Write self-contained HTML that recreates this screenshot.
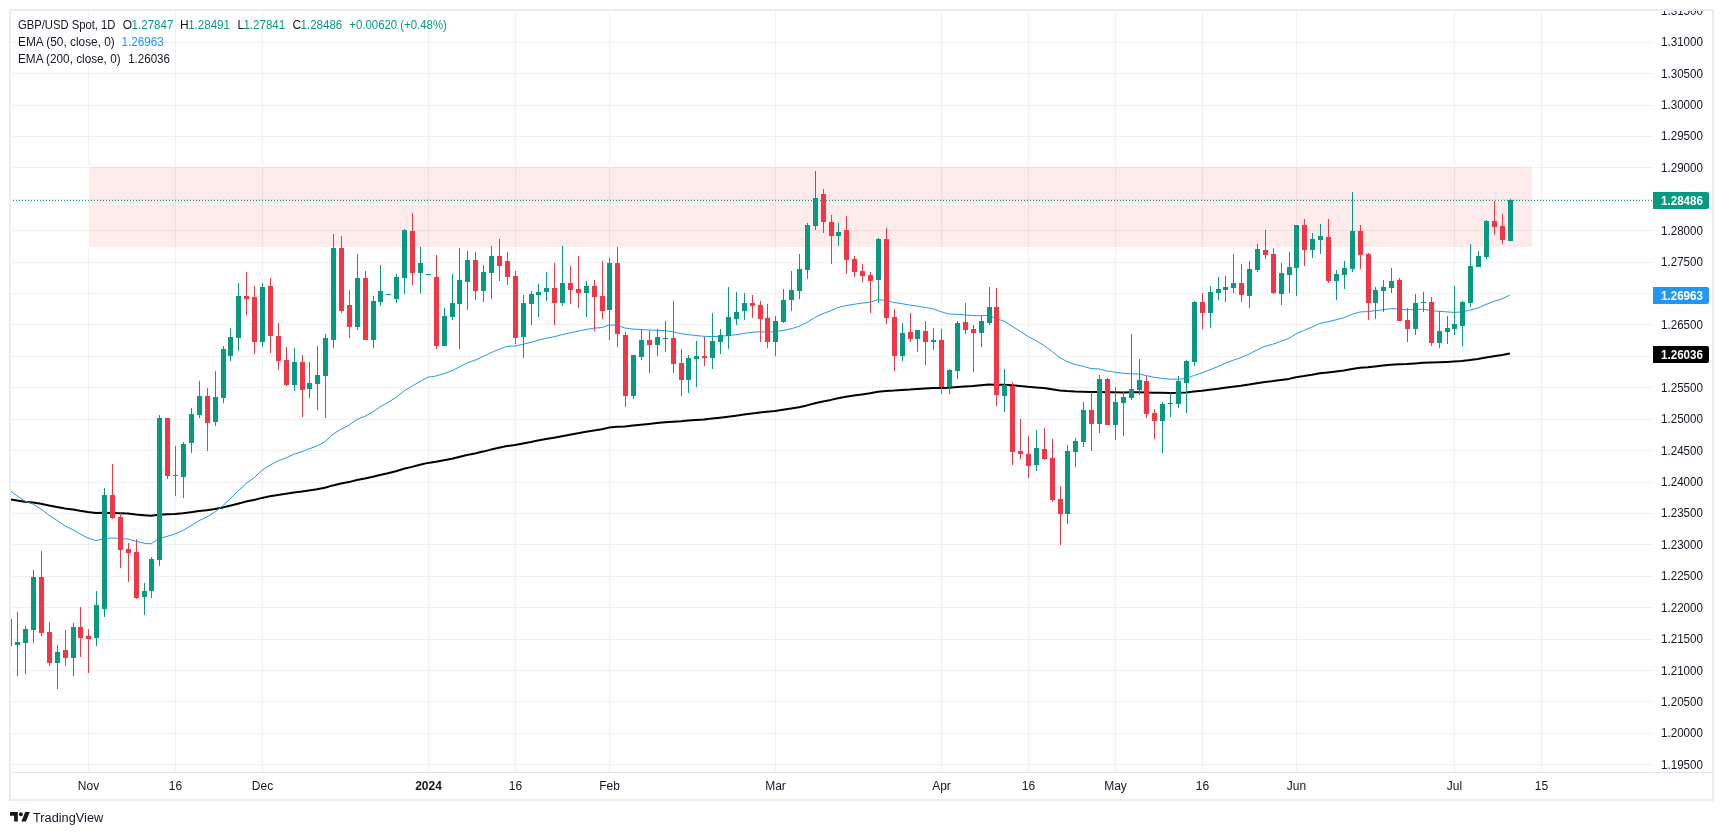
<!DOCTYPE html><html><head><meta charset="utf-8"><style>html,body{margin:0;padding:0;background:#fff;width:1723px;height:835px;overflow:hidden}svg{display:block;will-change:transform}text{font-family:"Liberation Sans",sans-serif}</style></head><body>
<svg width="1723" height="835" viewBox="0 0 1723 835">
<defs><clipPath id="pane"><rect x="11" y="11" width="1641" height="761"/></clipPath></defs>
<path d="M11 764.5H1653M11 733.5H1653M11 701.5H1653M11 670.5H1653M11 639.5H1653M11 607.5H1653M11 576.5H1653M11 544.5H1653M11 513.5H1653M11 482.5H1653M11 450.5H1653M11 419.5H1653M11 387.5H1653M11 356.5H1653M11 324.5H1653M11 293.5H1653M11 262.5H1653M11 230.5H1653M11 199.5H1653M11 167.5H1653M11 136.5H1653M11 105.5H1653M11 73.5H1653M11 42.5H1653" stroke="#2a2e39" stroke-opacity="0.07" stroke-width="1" fill="none"/>
<path d="M88.5 11V772M175.5 11V772M262.5 11V772M428.5 11V772M515.5 11V772M609.5 11V772M775.5 11V772M941.5 11V772M1028.5 11V772M1115.5 11V772M1202.5 11V772M1296.5 11V772M1454.5 11V772M1541.5 11V772" stroke="#2a2e39" stroke-opacity="0.07" stroke-width="1" fill="none"/>
<g clip-path="url(#pane)">
<rect x="88" y="166" width="1445" height="82" fill="none" stroke="#fff" stroke-width="2"/>
<rect x="89" y="167" width="1443" height="80" fill="#f23645" fill-opacity="0.1"/>
<polyline points="8.9,499.1 16.9,500.5 24.9,501.8 32.9,502.5 40.9,503.8 48.9,505.4 56.9,506.9 64.9,508.4 72.9,509.5 79.9,510.8 87.9,512.1 95.9,513.0 103.9,512.8 111.9,512.9 119.9,513.2 127.9,513.6 135.9,514.5 143.9,515.2 150.9,515.7 158.9,514.7 166.9,514.3 174.9,513.9 182.9,513.2 190.9,512.2 198.9,511.1 206.9,510.2 214.9,509.0 222.9,507.4 229.9,505.7 237.9,503.7 245.9,501.6 253.9,500.0 261.9,497.9 269.9,496.3 277.9,494.9 285.9,493.8 293.9,492.5 301.9,491.5 308.9,490.4 316.9,489.3 324.9,487.7 332.9,485.4 340.9,483.6 348.9,482.1 356.9,480.0 364.9,478.6 372.9,476.8 379.9,475.0 387.9,473.2 395.9,471.2 403.9,468.8 411.9,466.9 419.9,464.8 427.9,462.9 435.9,461.8 443.9,460.3 451.9,458.7 458.9,457.0 466.9,455.0 474.9,453.4 482.9,451.6 490.9,449.6 498.9,447.8 506.9,446.1 514.9,445.0 522.9,443.6 530.9,442.1 537.9,440.6 545.9,439.1 553.9,437.7 561.9,436.2 569.9,434.7 577.9,433.3 585.9,431.8 593.9,430.5 601.9,429.3 608.9,427.6 616.9,426.7 624.9,426.4 632.9,425.6 640.9,424.8 648.9,424.0 656.9,423.1 664.9,422.3 672.9,421.7 680.9,421.3 687.9,420.6 695.9,420.0 703.9,419.4 711.9,418.6 719.9,417.7 727.9,416.7 735.9,415.7 743.9,414.6 751.9,413.5 759.9,412.5 766.9,411.8 774.9,410.9 782.9,409.8 790.9,408.6 798.9,407.2 806.9,405.4 814.9,403.3 822.9,401.5 830.9,399.9 837.9,398.2 845.9,396.8 853.9,395.6 861.9,394.4 869.9,393.2 877.9,391.7 885.9,391.0 893.9,390.6 901.9,390.0 909.9,389.5 916.9,388.9 924.9,388.4 932.9,388.0 940.9,387.9 948.9,387.8 956.9,387.1 964.9,386.5 972.9,386.0 980.9,385.3 988.9,384.6 995.9,384.7 1003.9,384.7 1011.9,385.3 1019.9,386.0 1027.9,386.8 1035.9,387.4 1043.9,388.1 1051.9,389.2 1059.9,390.4 1066.9,391.0 1074.9,391.5 1082.9,391.7 1090.9,392.0 1098.9,391.9 1106.9,392.2 1114.9,392.3 1122.9,392.4 1130.9,392.3 1138.9,392.2 1145.9,392.4 1153.9,392.7 1161.9,392.8 1169.9,392.9 1177.9,392.8 1185.9,392.4 1193.9,391.5 1201.9,390.8 1209.9,389.8 1217.9,388.8 1224.9,387.7 1232.9,386.7 1240.9,385.8 1248.9,384.6 1256.9,383.2 1264.9,382.0 1272.9,381.1 1280.9,380.0 1288.9,378.9 1295.9,377.3 1303.9,376.1 1311.9,374.7 1319.9,373.3 1327.9,372.4 1335.9,371.4 1343.9,370.4 1351.9,369.0 1359.9,367.8 1367.9,367.2 1374.9,366.4 1382.9,365.6 1390.9,364.8 1398.9,364.3 1406.9,364.0 1414.9,363.4 1422.9,362.7 1430.9,362.5 1438.9,362.2 1446.9,361.9 1453.9,361.5 1461.9,360.9 1469.9,360.0 1477.9,358.9 1485.9,357.5 1493.9,356.2 1501.9,355.1 1509.9,353.5" fill="none" stroke="#000" stroke-width="2" stroke-linejoin="round"/>
<polyline points="8.9,489.9 16.9,495.8 24.9,501.0 32.9,504.0 40.9,509.0 48.9,515.1 56.9,520.4 64.9,525.8 72.9,529.7 79.9,533.9 87.9,538.0 95.9,540.6 103.9,538.8 111.9,538.0 119.9,538.4 127.9,539.0 135.9,541.3 143.9,543.2 150.9,543.8 158.9,538.8 166.9,536.4 174.9,534.0 182.9,530.4 190.9,525.8 198.9,520.7 206.9,516.9 214.9,512.1 222.9,505.7 229.9,499.1 237.9,491.1 245.9,483.5 253.9,477.9 261.9,470.4 269.9,465.1 277.9,461.0 285.9,458.0 293.9,454.2 301.9,451.7 308.9,449.0 316.9,446.0 324.9,441.8 332.9,434.2 340.9,429.3 348.9,425.2 356.9,419.5 364.9,416.3 372.9,411.8 379.9,407.0 387.9,402.5 395.9,397.6 403.9,391.0 411.9,386.3 419.9,381.5 427.9,377.2 435.9,376.0 443.9,373.6 451.9,370.8 458.9,367.2 466.9,363.0 474.9,360.2 482.9,356.7 490.9,352.7 498.9,349.3 506.9,346.4 514.9,346.0 522.9,344.3 530.9,342.3 537.9,340.3 545.9,338.3 553.9,336.8 561.9,334.7 569.9,332.9 577.9,331.3 585.9,329.5 593.9,328.2 601.9,327.5 608.9,325.0 616.9,325.3 624.9,328.0 632.9,329.1 640.9,329.5 648.9,330.0 656.9,330.3 664.9,330.6 672.9,331.9 680.9,333.7 687.9,334.6 695.9,335.5 703.9,336.3 711.9,336.5 719.9,336.4 727.9,335.6 735.9,334.7 743.9,333.4 751.9,332.3 759.9,331.8 766.9,332.1 774.9,331.7 782.9,330.4 790.9,328.8 798.9,326.4 806.9,322.4 814.9,317.5 822.9,313.7 830.9,310.7 837.9,307.6 845.9,305.6 853.9,304.3 861.9,303.1 869.9,302.2 877.9,299.7 885.9,300.4 893.9,302.5 901.9,303.7 909.9,305.1 916.9,306.0 924.9,307.4 932.9,308.7 940.9,311.7 948.9,314.0 956.9,314.3 964.9,314.9 972.9,315.5 980.9,315.8 988.9,315.4 995.9,318.5 1003.9,321.1 1011.9,326.1 1019.9,331.1 1027.9,336.4 1035.9,340.7 1043.9,345.4 1051.9,351.4 1059.9,357.8 1066.9,361.4 1074.9,364.5 1082.9,366.2 1090.9,368.5 1098.9,368.9 1106.9,371.0 1114.9,372.2 1122.9,373.2 1130.9,373.8 1138.9,374.0 1145.9,375.5 1153.9,377.3 1161.9,378.3 1169.9,379.2 1177.9,379.3 1185.9,378.5 1193.9,375.5 1201.9,373.0 1209.9,369.8 1217.9,366.6 1224.9,363.5 1232.9,360.3 1240.9,357.7 1248.9,354.2 1256.9,350.0 1264.9,346.3 1272.9,344.2 1280.9,341.4 1288.9,338.4 1295.9,333.9 1303.9,330.6 1311.9,327.0 1319.9,323.4 1327.9,321.7 1335.9,319.8 1343.9,317.8 1351.9,314.3 1359.9,312.0 1367.9,311.6 1374.9,310.7 1382.9,309.8 1390.9,308.6 1398.9,309.1 1406.9,309.8 1414.9,309.5 1422.9,309.2 1430.9,310.5 1438.9,311.3 1446.9,311.9 1453.9,312.4 1461.9,311.9 1469.9,310.1 1477.9,308.0 1485.9,304.5 1493.9,301.4 1501.9,299.0 1509.9,295.1" fill="none" stroke="#2196f3" stroke-width="1" stroke-linejoin="round"/>
<path d="M17.0 612h1v64h-1zM25.0 626h1v48h-1zM33.0 570h1v73h-1zM57.0 645h1v44h-1zM73.0 623h1v53h-1zM96.0 591h1v55h-1zM104.0 488h1v129h-1zM144.0 583h1v32h-1zM151.0 557h1v41h-1zM159.0 415h1v151h-1zM183.0 442h1v56h-1zM191.0 408h1v45h-1zM199.0 381h1v37h-1zM215.0 371h1v55h-1zM223.0 346h1v57h-1zM230.0 328h1v33h-1zM238.0 283h1v68h-1zM262.0 283h1v64h-1zM294.0 348h1v43h-1zM309.0 362h1v36h-1zM317.0 346h1v64h-1zM325.0 334h1v84h-1zM333.0 234h1v114h-1zM357.0 254h1v76h-1zM373.0 296h1v52h-1zM380.0 265h1v41h-1zM396.0 274h1v29h-1zM404.0 229h1v65h-1zM420.0 247h1v46h-1zM444.0 308h1v38h-1zM452.0 274h1v46h-1zM459.0 248h1v101h-1zM467.0 251h1v59h-1zM483.0 265h1v37h-1zM491.0 246h1v53h-1zM523.0 295h1v63h-1zM531.0 291h1v34h-1zM538.0 284h1v33h-1zM546.0 272h1v29h-1zM562.0 246h1v60h-1zM586.0 281h1v36h-1zM609.0 258h1v82h-1zM633.0 355h1v44h-1zM641.0 329h1v31h-1zM657.0 329h1v27h-1zM665.0 321h1v31h-1zM688.0 355h1v38h-1zM696.0 341h1v46h-1zM712.0 313h1v56h-1zM720.0 329h1v25h-1zM728.0 287h1v62h-1zM736.0 292h1v33h-1zM744.0 293h1v27h-1zM775.0 316h1v40h-1zM783.0 289h1v34h-1zM791.0 271h1v40h-1zM799.0 254h1v45h-1zM807.0 223h1v56h-1zM815.0 171h1v59h-1zM838.0 223h1v23h-1zM878.0 238h1v65h-1zM902.0 323h1v38h-1zM917.0 330h1v22h-1zM933.0 328h1v22h-1zM949.0 369h1v25h-1zM957.0 321h1v58h-1zM981.0 316h1v31h-1zM989.0 287h1v38h-1zM1004.0 369h1v43h-1zM1036.0 430h1v41h-1zM1067.0 445h1v79h-1zM1075.0 438h1v29h-1zM1083.0 402h1v45h-1zM1099.0 375h1v58h-1zM1115.0 387h1v53h-1zM1123.0 391h1v45h-1zM1131.0 334h1v66h-1zM1139.0 359h1v36h-1zM1162.0 402h1v51h-1zM1170.0 393h1v24h-1zM1178.0 376h1v32h-1zM1186.0 360h1v53h-1zM1194.0 301h1v65h-1zM1210.0 286h1v42h-1zM1218.0 277h1v23h-1zM1225.0 276h1v26h-1zM1233.0 254h1v39h-1zM1249.0 261h1v47h-1zM1257.0 244h1v28h-1zM1281.0 263h1v42h-1zM1289.0 252h1v41h-1zM1296.0 225h1v71h-1zM1312.0 233h1v25h-1zM1320.0 224h1v30h-1zM1336.0 270h1v30h-1zM1344.0 261h1v28h-1zM1352.0 192h1v80h-1zM1375.0 287h1v32h-1zM1383.0 280h1v32h-1zM1391.0 268h1v25h-1zM1415.0 294h1v41h-1zM1423.0 292h1v20h-1zM1439.0 311h1v37h-1zM1447.0 316h1v28h-1zM1454.0 286h1v49h-1zM1462.0 301h1v45h-1zM1470.0 244h1v63h-1zM1478.0 251h1v16h-1zM1486.0 220h1v39h-1zM1510.0 199h1v42h-1zM15.0 642h5v3h-5zM23.0 629h5v14h-5zM31.0 577h5v53h-5zM55.0 652h5v11h-5zM71.0 627h5v31h-5zM94.0 605h5v33h-5zM102.0 495h5v114h-5zM142.0 591h5v6h-5zM149.0 559h5v32h-5zM157.0 418h5v142h-5zM181.0 444h5v33h-5zM189.0 414h5v29h-5zM197.0 396h5v19h-5zM213.0 397h5v25h-5zM221.0 349h5v49h-5zM228.0 337h5v19h-5zM236.0 296h5v42h-5zM260.0 287h5v55h-5zM292.0 362h5v23h-5zM307.0 383h5v6h-5zM315.0 375h5v9h-5zM323.0 338h5v38h-5zM331.0 248h5v92h-5zM355.0 278h5v49h-5zM371.0 301h5v39h-5zM378.0 291h5v11h-5zM386.0 294h5v1h-5zM394.0 277h5v22h-5zM402.0 230h5v48h-5zM418.0 263h5v10h-5zM426.0 274h5v1h-5zM442.0 316h5v30h-5zM450.0 303h5v14h-5zM457.0 280h5v24h-5zM465.0 260h5v22h-5zM481.0 272h5v19h-5zM489.0 256h5v17h-5zM521.0 303h5v34h-5zM529.0 294h5v10h-5zM536.0 292h5v3h-5zM544.0 288h5v4h-5zM560.0 283h5v20h-5zM584.0 286h5v7h-5zM607.0 263h5v47h-5zM631.0 355h5v41h-5zM639.0 340h5v17h-5zM655.0 337h5v8h-5zM663.0 338h5v1h-5zM686.0 358h5v22h-5zM694.0 356h5v3h-5zM710.0 341h5v17h-5zM718.0 335h5v7h-5zM726.0 317h5v19h-5zM734.0 312h5v7h-5zM742.0 303h5v8h-5zM773.0 321h5v21h-5zM781.0 300h5v22h-5zM789.0 290h5v10h-5zM797.0 269h5v22h-5zM805.0 225h5v45h-5zM813.0 198h5v28h-5zM836.0 232h5v4h-5zM876.0 239h5v41h-5zM900.0 333h5v23h-5zM915.0 330h5v9h-5zM931.0 340h5v2h-5zM947.0 370h5v17h-5zM955.0 323h5v48h-5zM979.0 321h5v12h-5zM987.0 307h5v16h-5zM1002.0 385h5v11h-5zM1034.0 448h5v17h-5zM1065.0 451h5v63h-5zM1073.0 441h5v11h-5zM1081.0 410h5v32h-5zM1097.0 379h5v45h-5zM1113.0 402h5v23h-5zM1121.0 397h5v6h-5zM1129.0 389h5v9h-5zM1137.0 380h5v10h-5zM1160.0 404h5v17h-5zM1168.0 403h5v1h-5zM1176.0 381h5v23h-5zM1184.0 361h5v22h-5zM1192.0 302h5v60h-5zM1208.0 292h5v21h-5zM1216.0 289h5v4h-5zM1223.0 287h5v3h-5zM1231.0 283h5v5h-5zM1247.0 269h5v27h-5zM1255.0 249h5v21h-5zM1279.0 273h5v21h-5zM1287.0 267h5v8h-5zM1294.0 225h5v43h-5zM1310.0 239h5v11h-5zM1318.0 236h5v4h-5zM1334.0 274h5v7h-5zM1342.0 268h5v7h-5zM1350.0 231h5v38h-5zM1373.0 290h5v13h-5zM1381.0 287h5v4h-5zM1389.0 281h5v7h-5zM1413.0 303h5v26h-5zM1421.0 302h5v1h-5zM1437.0 331h5v12h-5zM1445.0 328h5v4h-5zM1452.0 324h5v5h-5zM1460.0 302h5v24h-5zM1468.0 266h5v37h-5zM1476.0 256h5v11h-5zM1484.0 221h5v36h-5zM1508.0 200h5v41h-5z" fill="#089981"/>
<path d="M9.0 615h1v36h-1zM41.0 551h1v85h-1zM49.0 622h1v44h-1zM65.0 630h1v36h-1zM80.0 607h1v50h-1zM88.0 629h1v44h-1zM112.0 464h1v55h-1zM120.0 513h1v55h-1zM128.0 543h1v39h-1zM136.0 539h1v60h-1zM167.0 418h1v61h-1zM175.0 446h1v50h-1zM207.0 388h1v63h-1zM246.0 272h1v43h-1zM254.0 286h1v68h-1zM270.0 278h1v75h-1zM278.0 323h1v47h-1zM286.0 347h1v39h-1zM302.0 355h1v62h-1zM341.0 236h1v77h-1zM349.0 290h1v48h-1zM365.0 271h1v69h-1zM412.0 213h1v72h-1zM436.0 255h1v94h-1zM475.0 252h1v48h-1zM499.0 239h1v42h-1zM507.0 252h1v33h-1zM515.0 271h1v73h-1zM554.0 263h1v62h-1zM570.0 266h1v38h-1zM578.0 256h1v52h-1zM594.0 280h1v51h-1zM602.0 261h1v58h-1zM617.0 247h1v100h-1zM625.0 332h1v75h-1zM649.0 331h1v42h-1zM673.0 301h1v72h-1zM681.0 349h1v47h-1zM704.0 337h1v29h-1zM752.0 295h1v23h-1zM760.0 301h1v41h-1zM767.0 304h1v44h-1zM823.0 189h1v44h-1zM831.0 215h1v49h-1zM846.0 216h1v58h-1zM854.0 256h1v21h-1zM862.0 264h1v18h-1zM870.0 272h1v41h-1zM886.0 228h1v96h-1zM894.0 309h1v62h-1zM910.0 313h1v29h-1zM925.0 321h1v44h-1zM941.0 329h1v65h-1zM965.0 303h1v31h-1zM973.0 325h1v47h-1zM996.0 288h1v118h-1zM1012.0 382h1v83h-1zM1020.0 419h1v40h-1zM1028.0 436h1v42h-1zM1044.0 428h1v32h-1zM1052.0 439h1v63h-1zM1060.0 486h1v59h-1zM1091.0 392h1v59h-1zM1107.0 378h1v47h-1zM1146.0 376h1v42h-1zM1154.0 409h1v30h-1zM1202.0 293h1v36h-1zM1241.0 264h1v38h-1zM1265.0 230h1v29h-1zM1273.0 248h1v46h-1zM1304.0 219h1v47h-1zM1328.0 219h1v64h-1zM1360.0 225h1v44h-1zM1368.0 253h1v67h-1zM1399.0 278h1v43h-1zM1407.0 308h1v34h-1zM1431.0 297h1v49h-1zM1494.0 201h1v34h-1zM1502.0 214h1v30h-1zM7.0 619h5v27h-5zM39.0 577h5v56h-5zM47.0 632h5v31h-5zM63.0 650h5v8h-5zM78.0 627h5v11h-5zM86.0 636h5v3h-5zM110.0 495h5v23h-5zM118.0 517h5v33h-5zM126.0 549h5v4h-5zM134.0 552h5v46h-5zM165.0 418h5v58h-5zM173.0 475h5v1h-5zM205.0 396h5v27h-5zM244.0 296h5v3h-5zM252.0 297h5v45h-5zM268.0 286h5v50h-5zM276.0 336h5v25h-5zM284.0 360h5v25h-5zM300.0 362h5v28h-5zM339.0 248h5v63h-5zM347.0 305h5v22h-5zM363.0 278h5v62h-5zM410.0 231h5v42h-5zM434.0 277h5v69h-5zM473.0 260h5v31h-5zM497.0 256h5v10h-5zM505.0 261h5v16h-5zM513.0 276h5v62h-5zM552.0 288h5v15h-5zM568.0 283h5v7h-5zM576.0 289h5v4h-5zM592.0 286h5v11h-5zM600.0 296h5v15h-5zM615.0 263h5v71h-5zM623.0 335h5v61h-5zM647.0 340h5v5h-5zM671.0 338h5v26h-5zM679.0 363h5v17h-5zM702.0 356h5v2h-5zM750.0 303h5v3h-5zM758.0 305h5v14h-5zM765.0 318h5v24h-5zM821.0 194h5v28h-5zM829.0 222h5v14h-5zM844.0 230h5v30h-5zM852.0 259h5v13h-5zM860.0 271h5v5h-5zM868.0 275h5v6h-5zM884.0 239h5v79h-5zM892.0 317h5v39h-5zM908.0 332h5v7h-5zM923.0 331h5v11h-5zM939.0 340h5v47h-5zM963.0 322h5v8h-5zM971.0 329h5v4h-5zM994.0 307h5v88h-5zM1010.0 386h5v66h-5zM1018.0 451h5v3h-5zM1026.0 454h5v12h-5zM1042.0 449h5v10h-5zM1050.0 458h5v42h-5zM1058.0 499h5v15h-5zM1089.0 410h5v14h-5zM1105.0 379h5v46h-5zM1144.0 381h5v33h-5zM1152.0 413h5v8h-5zM1200.0 302h5v11h-5zM1239.0 283h5v12h-5zM1263.0 250h5v5h-5zM1271.0 254h5v39h-5zM1302.0 225h5v25h-5zM1326.0 237h5v44h-5zM1358.0 231h5v24h-5zM1366.0 254h5v49h-5zM1397.0 280h5v41h-5zM1405.0 320h5v9h-5zM1429.0 302h5v41h-5zM1492.0 221h5v6h-5zM1500.0 226h5v14h-5z" fill="#f23645"/>
<path d="M10 200.5H1653" stroke="#089981" stroke-width="1" stroke-dasharray="1 2"/>
</g>
<path d="M11 772.5H1653M1654 772.5H1712" stroke="#e0e3eb" stroke-width="1"/>
<rect x="10" y="10" width="1703" height="790" fill="none" stroke="#ebecf0" stroke-width="2"/>
<g clip-path="url(#axis)">
<text x="1703" y="769" text-anchor="end" font-size="12.4" fill="#131722" textLength="42" lengthAdjust="spacingAndGlyphs">1.19500</text><text x="1703" y="737" text-anchor="end" font-size="12.4" fill="#131722" textLength="42" lengthAdjust="spacingAndGlyphs">1.20000</text><text x="1703" y="706" text-anchor="end" font-size="12.4" fill="#131722" textLength="42" lengthAdjust="spacingAndGlyphs">1.20500</text><text x="1703" y="675" text-anchor="end" font-size="12.4" fill="#131722" textLength="42" lengthAdjust="spacingAndGlyphs">1.21000</text><text x="1703" y="643" text-anchor="end" font-size="12.4" fill="#131722" textLength="42" lengthAdjust="spacingAndGlyphs">1.21500</text><text x="1703" y="612" text-anchor="end" font-size="12.4" fill="#131722" textLength="42" lengthAdjust="spacingAndGlyphs">1.22000</text><text x="1703" y="580" text-anchor="end" font-size="12.4" fill="#131722" textLength="42" lengthAdjust="spacingAndGlyphs">1.22500</text><text x="1703" y="549" text-anchor="end" font-size="12.4" fill="#131722" textLength="42" lengthAdjust="spacingAndGlyphs">1.23000</text><text x="1703" y="517" text-anchor="end" font-size="12.4" fill="#131722" textLength="42" lengthAdjust="spacingAndGlyphs">1.23500</text><text x="1703" y="486" text-anchor="end" font-size="12.4" fill="#131722" textLength="42" lengthAdjust="spacingAndGlyphs">1.24000</text><text x="1703" y="455" text-anchor="end" font-size="12.4" fill="#131722" textLength="42" lengthAdjust="spacingAndGlyphs">1.24500</text><text x="1703" y="423" text-anchor="end" font-size="12.4" fill="#131722" textLength="42" lengthAdjust="spacingAndGlyphs">1.25000</text><text x="1703" y="392" text-anchor="end" font-size="12.4" fill="#131722" textLength="42" lengthAdjust="spacingAndGlyphs">1.25500</text><text x="1703" y="329" text-anchor="end" font-size="12.4" fill="#131722" textLength="42" lengthAdjust="spacingAndGlyphs">1.26500</text><text x="1703" y="266" text-anchor="end" font-size="12.4" fill="#131722" textLength="42" lengthAdjust="spacingAndGlyphs">1.27500</text><text x="1703" y="235" text-anchor="end" font-size="12.4" fill="#131722" textLength="42" lengthAdjust="spacingAndGlyphs">1.28000</text><text x="1703" y="172" text-anchor="end" font-size="12.4" fill="#131722" textLength="42" lengthAdjust="spacingAndGlyphs">1.29000</text><text x="1703" y="140" text-anchor="end" font-size="12.4" fill="#131722" textLength="42" lengthAdjust="spacingAndGlyphs">1.29500</text><text x="1703" y="109" text-anchor="end" font-size="12.4" fill="#131722" textLength="42" lengthAdjust="spacingAndGlyphs">1.30000</text><text x="1703" y="78" text-anchor="end" font-size="12.4" fill="#131722" textLength="42" lengthAdjust="spacingAndGlyphs">1.30500</text><text x="1703" y="46" text-anchor="end" font-size="12.4" fill="#131722" textLength="42" lengthAdjust="spacingAndGlyphs">1.31000</text><text x="1703" y="15" text-anchor="end" font-size="12.4" fill="#131722" textLength="42" lengthAdjust="spacingAndGlyphs">1.31500</text>
</g>
<defs><clipPath id="axis"><rect x="1653" y="11" width="59" height="761"/></clipPath></defs>
<path d="M1653 192h54a2 2 0 0 1 2 2v13a2 2 0 0 1 -2 2h-54z" fill="#089981"/>
<text x="1703" y="204.8" text-anchor="end" font-size="12.4" font-weight="bold" fill="#fff" textLength="42" lengthAdjust="spacingAndGlyphs">1.28486</text>
<path d="M1653 287h54a2 2 0 0 1 2 2v13a2 2 0 0 1 -2 2h-54z" fill="#2196f3"/>
<text x="1703" y="299.8" text-anchor="end" font-size="12.4" font-weight="bold" fill="#fff" textLength="42" lengthAdjust="spacingAndGlyphs">1.26963</text>
<path d="M1653 346h54a2 2 0 0 1 2 2v13a2 2 0 0 1 -2 2h-54z" fill="#000"/>
<text x="1703" y="358.8" text-anchor="end" font-size="12.4" font-weight="bold" fill="#fff" textLength="42" lengthAdjust="spacingAndGlyphs">1.26036</text>
<text x="88.5" y="790.2" text-anchor="middle" font-size="12" fill="#131722">Nov</text>
<text x="175.5" y="790.2" text-anchor="middle" font-size="12" fill="#131722">16</text>
<text x="262.5" y="790.2" text-anchor="middle" font-size="12" fill="#131722">Dec</text>
<text x="428.5" y="790.2" text-anchor="middle" font-size="12" font-weight="bold" fill="#131722">2024</text>
<text x="515.5" y="790.2" text-anchor="middle" font-size="12" fill="#131722">16</text>
<text x="609.5" y="790.2" text-anchor="middle" font-size="12" fill="#131722">Feb</text>
<text x="775.5" y="790.2" text-anchor="middle" font-size="12" fill="#131722">Mar</text>
<text x="941.5" y="790.2" text-anchor="middle" font-size="12" fill="#131722">Apr</text>
<text x="1028.5" y="790.2" text-anchor="middle" font-size="12" fill="#131722">16</text>
<text x="1115.5" y="790.2" text-anchor="middle" font-size="12" fill="#131722">May</text>
<text x="1202.5" y="790.2" text-anchor="middle" font-size="12" fill="#131722">16</text>
<text x="1296.5" y="790.2" text-anchor="middle" font-size="12" fill="#131722">Jun</text>
<text x="1454.5" y="790.2" text-anchor="middle" font-size="12" fill="#131722">Jul</text>
<text x="1541.5" y="790.2" text-anchor="middle" font-size="12" fill="#131722">15</text>
<text x="18" y="29" font-size="12" fill="#131722" textLength="97.5" lengthAdjust="spacingAndGlyphs">GBP/USD Spot, 1D</text>
<text x="122.8" y="29" font-size="12" fill="#131722">O</text>
<text x="131.6" y="29" font-size="12" fill="#089981" textLength="41.8" lengthAdjust="spacingAndGlyphs">1.27847</text>
<text x="180" y="29" font-size="12" fill="#131722">H</text>
<text x="188.2" y="29" font-size="12" fill="#089981" textLength="41.8" lengthAdjust="spacingAndGlyphs">1.28491</text>
<text x="237.5" y="29" font-size="12" fill="#131722">L</text>
<text x="243.4" y="29" font-size="12" fill="#089981" textLength="41.8" lengthAdjust="spacingAndGlyphs">1.27841</text>
<text x="292.6" y="29" font-size="12" fill="#131722">C</text>
<text x="300.5" y="29" font-size="12" fill="#089981" textLength="41.8" lengthAdjust="spacingAndGlyphs">1.28486</text>
<text x="349.3" y="29" font-size="12" fill="#089981" textLength="97.6" lengthAdjust="spacingAndGlyphs">+0.00620 (+0.48%)</text>
<text x="18" y="45.8" font-size="12" fill="#131722" textLength="96.8" lengthAdjust="spacingAndGlyphs">EMA (50, close, 0)</text>
<text x="121.5" y="45.8" font-size="12" fill="#2196f3" textLength="42.4" lengthAdjust="spacingAndGlyphs">1.26963</text>
<text x="18" y="63" font-size="12" fill="#131722" textLength="102.6" lengthAdjust="spacingAndGlyphs">EMA (200, close, 0)</text>
<text x="128.2" y="63" font-size="12" fill="#131722" textLength="41.8" lengthAdjust="spacingAndGlyphs">1.26036</text>
<g fill="#131722"><path d="M10.05 812.1H17.8V821.6H14.14V815.65H10.05ZM25.2 812.1H29.8L25.9 821.6H21.4Z"/><circle cx="20.9" cy="814.25" r="1.95"/></g>
<text x="33" y="821.8" font-size="12.5" fill="#131722" textLength="70.2" lengthAdjust="spacingAndGlyphs">TradingView</text>
</svg></body></html>
